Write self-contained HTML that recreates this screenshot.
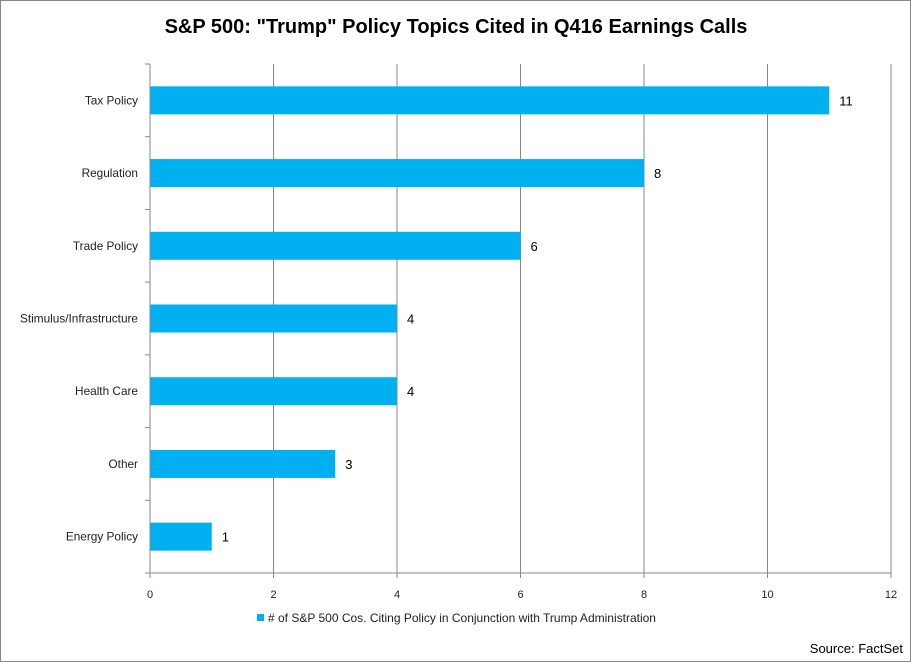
<!DOCTYPE html>
<html><head><meta charset="utf-8"><style>
body{margin:0;background:#fff;}
svg{display:block;font-family:"Liberation Sans",sans-serif;}
</style></head><body>
<svg id="chart" width="911" height="662">
<rect x="0.5" y="0.5" width="910" height="661" fill="#fff" stroke="#888"/>
<text x="456" y="33" text-anchor="middle" font-size="20" font-weight="bold" fill="#000">S&amp;P 500: "Trump" Policy Topics Cited in Q416 Earnings Calls</text>
<g id="grid"></g><g id="bars"></g><g id="axes"></g>
<rect x="257" y="614" width="7" height="7" fill="#00b0f0"/>
<text x="268" y="622" font-size="12" fill="#222"># of S&amp;P 500 Cos. Citing Policy in Conjunction with Trump Administration</text>
<text x="903" y="653" text-anchor="end" font-size="13" fill="#000">Source: FactSet</text>
</svg>
<script>
const categories=["Tax Policy","Regulation","Trade Policy","Stimulus/Infrastructure","Health Care","Other","Energy Policy"];
const values=[11,8,6,4,4,3,1];
const xTicks=[0,2,4,6,8,10,12];
const NS="http://www.w3.org/2000/svg";
const x0=150,x1=891,yTop=64,yBot=573,xMax=12;
const band=(yBot-yTop)/categories.length;
function xs(v){return x0+(x1-x0)*v/xMax;}
function yc(i){return yTop+band*(i+0.5);}
function mk(tag,attrs,parent){const e=document.createElementNS(NS,tag);for(const k in attrs)e.setAttribute(k,attrs[k]);document.getElementById(parent).appendChild(e);return e;}
xTicks.forEach(t=>{
 if(t>0){const g=mk('line',{x1:xs(t),x2:xs(t),y1:yTop,y2:yBot,stroke:'#888','stroke-width':1},'grid');
 
 }
 const tk=mk('line',{x1:xs(t),x2:xs(t),y1:yBot,y2:yBot+5,stroke:'#888'},'axes');
 
 
 const l=mk('text',{x:xs(t),y:yBot+25,'text-anchor':'middle','font-size':11,fill:'#222'},'axes');l.textContent=t;
 
 
});
const ax=mk('line',{x1:x0,x2:x1,y1:yBot,y2:yBot,stroke:'#888'},'axes');


const ay=mk('line',{x1:x0,x2:x0,y1:yTop,y2:yBot,stroke:'#888'},'axes');


for(let i=0;i<=categories.length;i++){const t=mk('line',{x1:x0-5,x2:x0,y1:yTop+band*i,y2:yTop+band*i,stroke:'#888'},'axes');
 
 }
categories.forEach((c,i)=>{
 const b=mk('rect',{x:x0,y:yc(i)-14,width:xs(values[i])-x0,height:28,fill:'#00b0f0'},'bars');
 
 
 const v=mk('text',{x:xs(values[i])+10,y:yc(i)+5,'font-size':13,fill:'#000'},'bars');v.textContent=values[i];
 
 
 const l=mk('text',{x:x0-12,y:yc(i)+4,'text-anchor':'end','font-size':11.8,fill:'#222'},'axes');l.textContent=c;
 
 
});
</script>
</body></html>
